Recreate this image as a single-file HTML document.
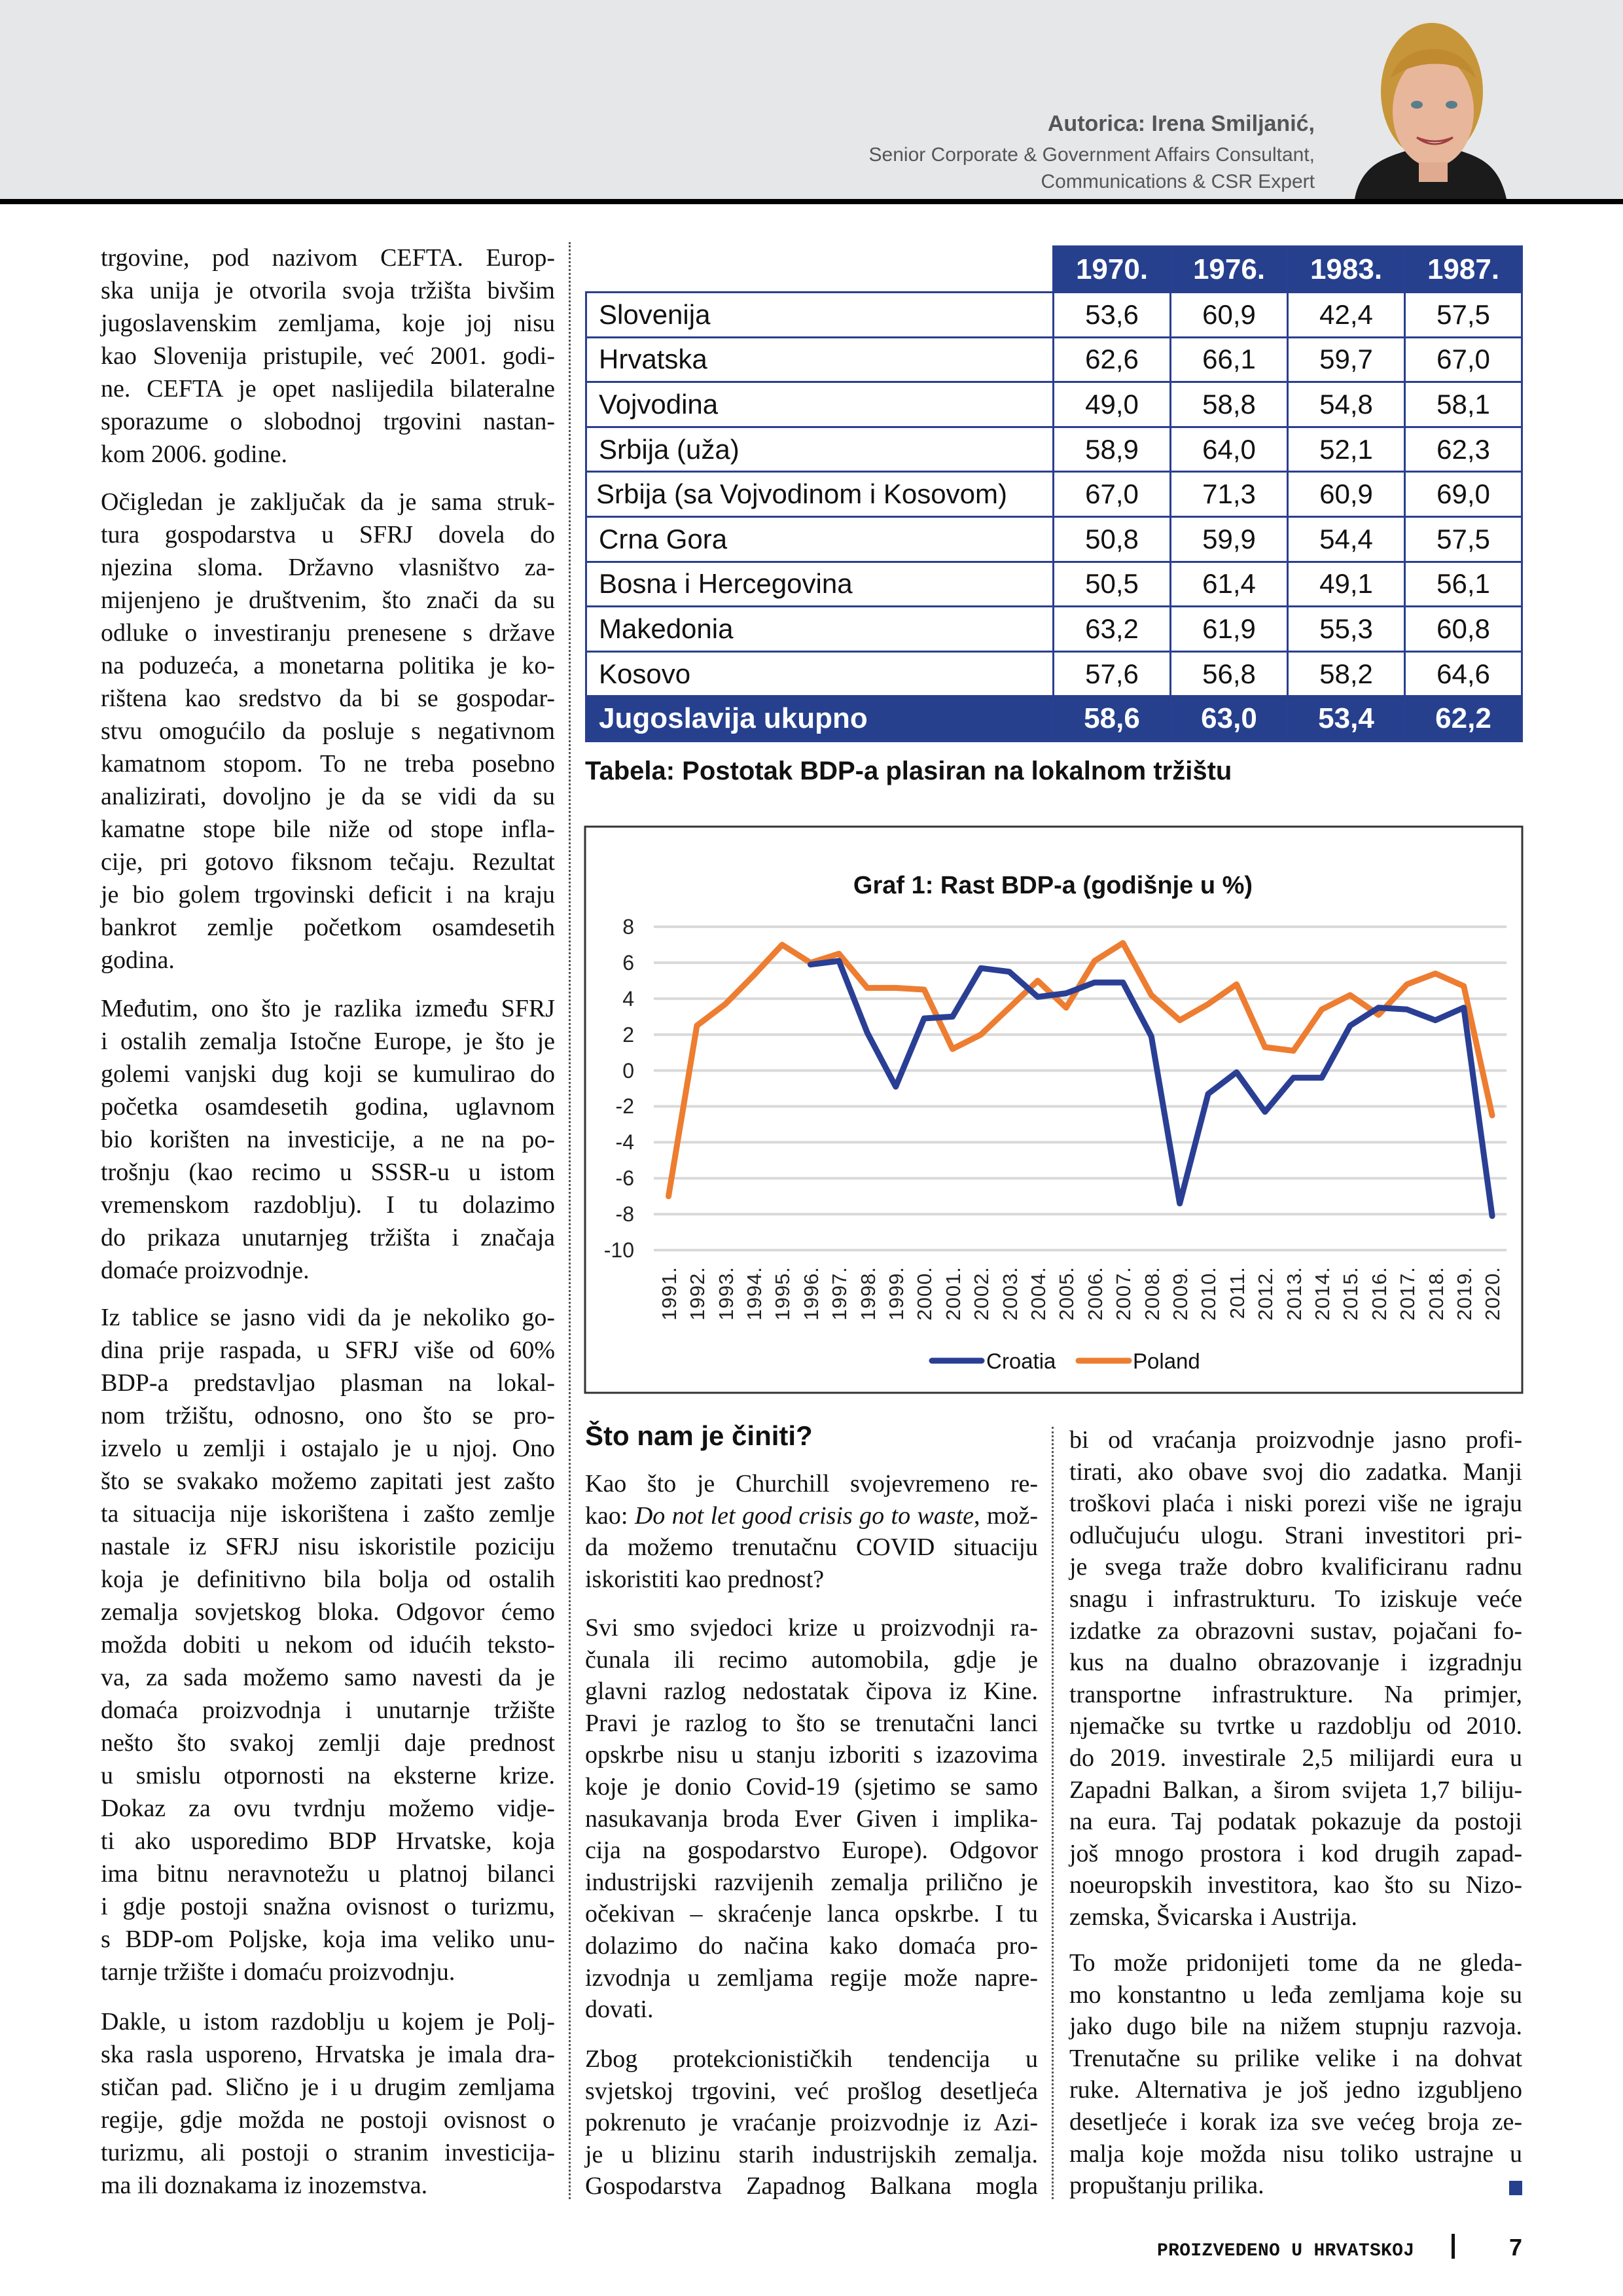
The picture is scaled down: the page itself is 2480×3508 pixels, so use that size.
<!DOCTYPE html>
<html><head><meta charset="utf-8"><style>
*{margin:0;padding:0;box-sizing:border-box}
body{width:2480px;height:3508px;position:relative;background:#fff;overflow:hidden;font-family:"Liberation Serif",serif;color:#111}
.hdr{position:absolute;left:0;top:0;width:2480px;height:304px;background:#e6e7e8}
.bar{position:absolute;left:0;top:304px;width:2480px;height:8px;background:#000}
.au{position:absolute;right:471px;text-align:right;font-family:"Liberation Sans",sans-serif;color:#555;white-space:nowrap}
.p{position:absolute;font-size:38px;line-height:50px}
.p.m{line-height:48.6px}
.l{height:50px;white-space:nowrap;text-align:justify;text-align-last:justify}
.p.m .l{height:48.6px}
.l.e{text-align:left;text-align-last:left}
.dot{position:absolute;width:0;border-left:3px dotted #555}
table{position:absolute;left:894px;top:375px;border-collapse:collapse;font-family:"Liberation Sans",sans-serif;font-size:42px}
td{height:68.6px;border:3px solid #2a3f8f;padding:0 0 0 18px;color:#111}
td.n{width:179px;text-align:center;padding:0}
tr.h td{background:#26408e;color:#fff;font-weight:bold;font-size:44px;height:70px}
tr.h td.x{background:#fff;border:none;border-bottom:3px solid #2a3f8f}
tr.t td{background:#26408e;color:#fff;font-weight:bold;font-size:44px}
.cap{position:absolute;left:894px;top:1156px;font-family:"Liberation Sans",sans-serif;font-weight:bold;font-size:40px;color:#111}
.hd{position:absolute;font-family:"Liberation Sans",sans-serif;font-weight:bold;font-size:42px}
</style></head><body>
<div class="hdr"></div><div class="bar"></div>
<div class="au" style="top:170px;font-size:34px;font-weight:bold">Autorica: Irena Smiljanić,</div>
<div class="au" style="top:220px;font-size:30px">Senior Corporate &amp; Government Affairs Consultant,</div>
<div class="au" style="top:261px;font-size:30px">Communications &amp; CSR Expert</div>
<svg style="position:absolute;left:2040px;top:20px" width="300" height="284" viewBox="0 0 300 284">
<path d="M30 284 C40 230 80 220 110 210 L190 210 C220 220 250 230 262 284Z" fill="#1b1b1b"/>
<ellipse cx="148" cy="120" rx="78" ry="105" fill="#c8963a"/>
<ellipse cx="150" cy="150" rx="62" ry="85" fill="#e8b69a"/>
<path d="M85 100 C100 40 200 40 215 100 C190 70 120 70 85 100Z" fill="#c08a30"/>
<ellipse cx="125" cy="140" rx="9" ry="6" fill="#5a7d8a"/><ellipse cx="178" cy="140" rx="9" ry="6" fill="#5a7d8a"/>
<path d="M125 190 Q152 210 180 190 Q152 202 125 190Z" fill="#fff" stroke="#a04040" stroke-width="3"/>
<rect x="128" y="228" width="44" height="30" fill="#e0aa90"/>
</svg>

<div class="dot" style="left:869px;top:370px;height:2990px"></div>
<div class="dot" style="left:1607px;top:2180px;height:1180px"></div>

<div class="p" style="left:154px;top:369px;width:694px">
<div class="l">trgovine, pod nazivom CEFTA. Europ-</div>
<div class="l">ska unija je otvorila svoja tržišta bivšim</div>
<div class="l">jugoslavenskim zemljama, koje joj nisu</div>
<div class="l">kao Slovenija pristupile, već 2001. godi-</div>
<div class="l">ne. CEFTA je opet naslijedila bilateralne</div>
<div class="l">sporazume o slobodnoj trgovini nastan-</div>
<div class="l e">kom 2006. godine.</div>
</div>
<div class="p" style="left:154px;top:742px;width:694px">
<div class="l">Očigledan je zaključak da je sama struk-</div>
<div class="l">tura gospodarstva u SFRJ dovela do</div>
<div class="l">njezina sloma. Državno vlasništvo za-</div>
<div class="l">mijenjeno je društvenim, što znači da su</div>
<div class="l">odluke o investiranju prenesene s države</div>
<div class="l">na poduzeća, a monetarna politika je ko-</div>
<div class="l">rištena kao sredstvo da bi se gospodar-</div>
<div class="l">stvu omogućilo da posluje s negativnom</div>
<div class="l">kamatnom stopom. To ne treba posebno</div>
<div class="l">analizirati, dovoljno je da se vidi da su</div>
<div class="l">kamatne stope bile niže od stope infla-</div>
<div class="l">cije, pri gotovo fiksnom tečaju. Rezultat</div>
<div class="l">je bio golem trgovinski deficit i na kraju</div>
<div class="l">bankrot zemlje početkom osamdesetih</div>
<div class="l e">godina.</div>
</div>
<div class="p" style="left:154px;top:1516px;width:694px">
<div class="l">Međutim, ono što je razlika između SFRJ</div>
<div class="l">i ostalih zemalja Istočne Europe, je što je</div>
<div class="l">golemi vanjski dug koji se kumulirao do</div>
<div class="l">početka osamdesetih godina, uglavnom</div>
<div class="l">bio korišten na investicije, a ne na po-</div>
<div class="l">trošnju (kao recimo u SSSR-u u istom</div>
<div class="l">vremenskom razdoblju). I tu dolazimo</div>
<div class="l">do prikaza unutarnjeg tržišta i značaja</div>
<div class="l e">domaće proizvodnje.</div>
</div>
<div class="p" style="left:154px;top:1988px;width:694px">
<div class="l">Iz tablice se jasno vidi da je nekoliko go-</div>
<div class="l">dina prije raspada, u SFRJ više od 60%</div>
<div class="l">BDP-a predstavljao plasman na lokal-</div>
<div class="l">nom tržištu, odnosno, ono što se pro-</div>
<div class="l">izvelo u zemlji i ostajalo je u njoj. Ono</div>
<div class="l">što se svakako možemo zapitati jest zašto</div>
<div class="l">ta situacija nije iskorištena i zašto zemlje</div>
<div class="l">nastale iz SFRJ nisu iskoristile poziciju</div>
<div class="l">koja je definitivno bila bolja od ostalih</div>
<div class="l">zemalja sovjetskog bloka. Odgovor ćemo</div>
<div class="l">možda dobiti u nekom od idućih teksto-</div>
<div class="l">va, za sada možemo samo navesti da je</div>
<div class="l">domaća proizvodnja i unutarnje tržište</div>
<div class="l">nešto što svakoj zemlji daje prednost</div>
<div class="l">u smislu otpornosti na eksterne krize.</div>
<div class="l">Dokaz za ovu tvrdnju možemo vidje-</div>
<div class="l">ti ako usporedimo BDP Hrvatske, koja</div>
<div class="l">ima bitnu neravnotežu u platnoj bilanci</div>
<div class="l">i gdje postoji snažna ovisnost o turizmu,</div>
<div class="l">s BDP-om Poljske, koja ima veliko unu-</div>
<div class="l e">tarnje tržište i domaću proizvodnju.</div>
</div>
<div class="p" style="left:154px;top:3064px;width:694px">
<div class="l">Dakle, u istom razdoblju u kojem je Polj-</div>
<div class="l">ska rasla usporeno, Hrvatska je imala dra-</div>
<div class="l">stičan pad. Slično je i u drugim zemljama</div>
<div class="l">regije, gdje možda ne postoji ovisnost o</div>
<div class="l">turizmu, ali postoji o stranim investicija-</div>
<div class="l e">ma ili doznakama iz inozemstva.</div>
</div>

<table>
<tr class="h"><td class="x" style="width:714px"></td><td class="n">1970.</td><td class="n">1976.</td><td class="n">1983.</td><td class="n">1987.</td></tr>
<tr><td>Slovenija</td><td class="n">53,6</td><td class="n">60,9</td><td class="n">42,4</td><td class="n">57,5</td></tr>
<tr><td>Hrvatska</td><td class="n">62,6</td><td class="n">66,1</td><td class="n">59,7</td><td class="n">67,0</td></tr>
<tr><td>Vojvodina</td><td class="n">49,0</td><td class="n">58,8</td><td class="n">54,8</td><td class="n">58,1</td></tr>
<tr><td>Srbija (uža)</td><td class="n">58,9</td><td class="n">64,0</td><td class="n">52,1</td><td class="n">62,3</td></tr>
<tr><td style="white-space:nowrap;padding-left:14px">Srbija (sa Vojvodinom i Kosovom)</td><td class="n">67,0</td><td class="n">71,3</td><td class="n">60,9</td><td class="n">69,0</td></tr>
<tr><td>Crna Gora</td><td class="n">50,8</td><td class="n">59,9</td><td class="n">54,4</td><td class="n">57,5</td></tr>
<tr><td>Bosna i Hercegovina</td><td class="n">50,5</td><td class="n">61,4</td><td class="n">49,1</td><td class="n">56,1</td></tr>
<tr><td>Makedonia</td><td class="n">63,2</td><td class="n">61,9</td><td class="n">55,3</td><td class="n">60,8</td></tr>
<tr><td>Kosovo</td><td class="n">57,6</td><td class="n">56,8</td><td class="n">58,2</td><td class="n">64,6</td></tr>
<tr class="t"><td>Jugoslavija ukupno</td><td class="n">58,6</td><td class="n">63,0</td><td class="n">53,4</td><td class="n">62,2</td></tr>
</table>
<div class="cap">Tabela: Postotak BDP-a plasiran na lokalnom tržištu</div>

<svg style="position:absolute;left:0;top:0" width="2480" height="3508" viewBox="0 0 2480 3508" font-family="Liberation Sans, sans-serif">
<rect x="894" y="1263" width="1432" height="865" fill="none" stroke="#333" stroke-width="3"/>
<text x="1609" y="1365" font-size="38" font-weight="bold" text-anchor="middle" fill="#111">Graf 1: Rast BDP-a (godišnje u %)</text>
<g stroke="#d9d9d9" stroke-width="4">
<line x1="999" y1="1416" x2="2302" y2="1416"/><line x1="999" y1="1470.9" x2="2302" y2="1470.9"/>
<line x1="999" y1="1525.8" x2="2302" y2="1525.8"/><line x1="999" y1="1580.7" x2="2302" y2="1580.7"/>
<line x1="999" y1="1635.6" x2="2302" y2="1635.6"/><line x1="999" y1="1690.4" x2="2302" y2="1690.4"/>
<line x1="999" y1="1745.3" x2="2302" y2="1745.3"/><line x1="999" y1="1800.2" x2="2302" y2="1800.2"/>
<line x1="999" y1="1855.1" x2="2302" y2="1855.1"/><line x1="999" y1="1910" x2="2302" y2="1910"/>
</g>
<g font-size="32" text-anchor="end" fill="#222">
<text x="969" y="1427">8</text><text x="969" y="1482">6</text><text x="969" y="1537">4</text><text x="969" y="1592">2</text><text x="969" y="1647">0</text><text x="969" y="1701">-2</text><text x="969" y="1756">-4</text><text x="969" y="1811">-6</text><text x="969" y="1866">-8</text><text x="969" y="1921">-10</text>
</g>
<polyline fill="none" stroke="#ed7d31" stroke-width="9" stroke-linejoin="round" stroke-linecap="round" points="1021.5,1827.7 1064.9,1567 1108.3,1534.1 1151.7,1490.2 1195.1,1443.5 1238.5,1471 1281.9,1457.2 1325.3,1509.4 1368.7,1509.4 1412.1,1512 1455.5,1602.7 1498.9,1580.7 1542.3,1539.6 1585.7,1498.4 1629.1,1539.6 1672.5,1468.2 1715.9,1440.8 1759.3,1520.4 1802.7,1558.8 1846.1,1534.1 1889.5,1503.9 1932.9,1599.9 1976.3,1605.4 2019.7,1542.3 2063.1,1520.4 2106.5,1550.5 2149.9,1503.9 2193.3,1487.4 2236.7,1506.6 2280.1,1704.2"/>
<polyline fill="none" stroke="#2a3f94" stroke-width="9" stroke-linejoin="round" stroke-linecap="round" points="1238.5,1473.7 1281.9,1468.2 1325.3,1578 1368.7,1660.3 1412.1,1556 1455.5,1553.3 1498.9,1479.2 1542.3,1484.7 1585.7,1523.1 1629.1,1517.6 1672.5,1501.1 1715.9,1501.1 1759.3,1583.5 1802.7,1838.7 1846.1,1671.3 1889.5,1638.3 1932.9,1698.7 1976.3,1646.6 2019.7,1646.6 2063.1,1567 2106.5,1539.6 2149.9,1542.3 2193.3,1558.8 2236.7,1539.6 2280.1,1857.9"/>
<g font-size="31" text-anchor="end" fill="#222" letter-spacing="1">
<text transform="translate(1033,1935) rotate(-90)">1991.</text><text transform="translate(1076,1935) rotate(-90)">1992.</text><text transform="translate(1120,1935) rotate(-90)">1993.</text><text transform="translate(1163,1935) rotate(-90)">1994.</text><text transform="translate(1206,1935) rotate(-90)">1995.</text><text transform="translate(1250,1935) rotate(-90)">1996.</text><text transform="translate(1293,1935) rotate(-90)">1997.</text><text transform="translate(1337,1935) rotate(-90)">1998.</text><text transform="translate(1380,1935) rotate(-90)">1999.</text><text transform="translate(1423,1935) rotate(-90)">2000.</text><text transform="translate(1467,1935) rotate(-90)">2001.</text><text transform="translate(1510,1935) rotate(-90)">2002.</text><text transform="translate(1554,1935) rotate(-90)">2003.</text><text transform="translate(1597,1935) rotate(-90)">2004.</text><text transform="translate(1640,1935) rotate(-90)">2005.</text><text transform="translate(1684,1935) rotate(-90)">2006.</text><text transform="translate(1727,1935) rotate(-90)">2007.</text><text transform="translate(1771,1935) rotate(-90)">2008.</text><text transform="translate(1814,1935) rotate(-90)">2009.</text><text transform="translate(1857,1935) rotate(-90)">2010.</text><text transform="translate(1901,1935) rotate(-90)">2011.</text><text transform="translate(1944,1935) rotate(-90)">2012.</text><text transform="translate(1988,1935) rotate(-90)">2013.</text><text transform="translate(2031,1935) rotate(-90)">2014.</text><text transform="translate(2074,1935) rotate(-90)">2015.</text><text transform="translate(2118,1935) rotate(-90)">2016.</text><text transform="translate(2161,1935) rotate(-90)">2017.</text><text transform="translate(2205,1935) rotate(-90)">2018.</text><text transform="translate(2248,1935) rotate(-90)">2019.</text><text transform="translate(2291,1935) rotate(-90)">2020.</text>
</g>
<line x1="1424" y1="2079" x2="1500" y2="2079" stroke="#2a3f94" stroke-width="9" stroke-linecap="round"/>
<text x="1507" y="2091" font-size="33" fill="#111">Croatia</text>
<line x1="1648" y1="2079" x2="1725" y2="2079" stroke="#ed7d31" stroke-width="9" stroke-linecap="round"/>
<text x="1731" y="2091" font-size="33" fill="#111">Poland</text>
<rect x="2306" y="3332" width="20" height="22" fill="#26408e"/>
<text x="1768" y="3446" font-family="Liberation Mono, monospace" font-size="28" font-weight="bold" letter-spacing="0.3" fill="#111">PROIZVEDENO U HRVATSKOJ</text>
<rect x="2218" y="3413" width="5" height="38" fill="#111"/>
<text x="2326" y="3446" font-size="36" font-weight="bold" text-anchor="end" fill="#111">7</text>
</svg>

<div class="hd" style="left:894px;top:2170px">Što nam je činiti?</div>
<div class="p m" style="left:894px;top:2243px;width:692px">
<div class="l">Kao što je Churchill svojevremeno re-</div>
<div class="l">kao: <i>Do not let good crisis go to waste</i>, mož-</div>
<div class="l">da možemo trenutačnu COVID situaciju</div>
<div class="l e">iskoristiti kao prednost?</div>
</div>
<div class="p m" style="left:894px;top:2463px;width:692px">
<div class="l">Svi smo svjedoci krize u proizvodnji ra-</div>
<div class="l">čunala ili recimo automobila, gdje je</div>
<div class="l">glavni razlog nedostatak čipova iz Kine.</div>
<div class="l">Pravi je razlog to što se trenutačni lanci</div>
<div class="l">opskrbe nisu u stanju izboriti s izazovima</div>
<div class="l">koje je donio Covid-19 (sjetimo se samo</div>
<div class="l">nasukavanja broda Ever Given i implika-</div>
<div class="l">cija na gospodarstvo Europe). Odgovor</div>
<div class="l">industrijski razvijenih zemalja prilično je</div>
<div class="l">očekivan – skraćenje lanca opskrbe. I tu</div>
<div class="l">dolazimo do načina kako domaća pro-</div>
<div class="l">izvodnja u zemljama regije može napre-</div>
<div class="l e">dovati.</div>
</div>
<div class="p m" style="left:894px;top:3122px;width:692px">
<div class="l">Zbog protekcionističkih tendencija u</div>
<div class="l">svjetskoj trgovini, već prošlog desetljeća</div>
<div class="l">pokrenuto je vraćanje proizvodnje iz Azi-</div>
<div class="l">je u blizinu starih industrijskih zemalja.</div>
<div class="l">Gospodarstva Zapadnog Balkana mogla</div>
</div>
<div class="p m" style="left:1634px;top:2176px;width:692px">
<div class="l">bi od vraćanja proizvodnje jasno profi-</div>
<div class="l">tirati, ako obave svoj dio zadatka. Manji</div>
<div class="l">troškovi plaća i niski porezi više ne igraju</div>
<div class="l">odlučujuću ulogu. Strani investitori pri-</div>
<div class="l">je svega traže dobro kvalificiranu radnu</div>
<div class="l">snagu i infrastrukturu. To iziskuje veće</div>
<div class="l">izdatke za obrazovni sustav, pojačani fo-</div>
<div class="l">kus na dualno obrazovanje i izgradnju</div>
<div class="l">transportne infrastrukture. Na primjer,</div>
<div class="l">njemačke su tvrtke u razdoblju od 2010.</div>
<div class="l">do 2019. investirale 2,5 milijardi eura u</div>
<div class="l">Zapadni Balkan, a širom svijeta 1,7 biliju-</div>
<div class="l">na eura. Taj podatak pokazuje da postoji</div>
<div class="l">još mnogo prostora i kod drugih zapad-</div>
<div class="l">noeuropskih investitora, kao što su Nizo-</div>
<div class="l e">zemska, Švicarska i Austrija.</div>
</div>
<div class="p m" style="left:1634px;top:2975px;width:692px">
<div class="l">To može pridonijeti tome da ne gleda-</div>
<div class="l">mo konstantno u leđa zemljama koje su</div>
<div class="l">jako dugo bile na nižem stupnju razvoja.</div>
<div class="l">Trenutačne su prilike velike i na dohvat</div>
<div class="l">ruke. Alternativa je još jedno izgubljeno</div>
<div class="l">desetljeće i korak iza sve većeg broja ze-</div>
<div class="l">malja koje možda nisu toliko ustrajne u</div>
<div class="l e">propuštanju prilika.</div>
</div>
</body></html>
